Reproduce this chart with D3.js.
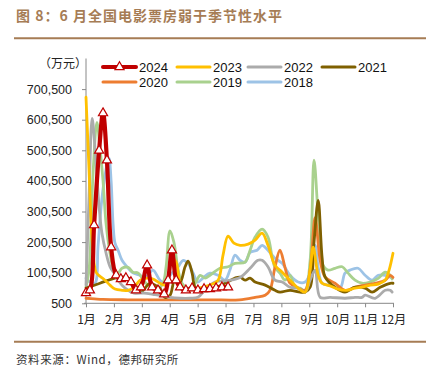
<!DOCTYPE html>
<html><head><meta charset="utf-8">
<script src="https://cdn.jsdelivr.net/npm/d3@7"></script>
<style>body{margin:0;background:#fff}</style>
</head><body><svg id="c" width="438" height="373"></svg>
<script>
// ---------- DATA ----------
const monthLabels = ["1月","2月","3月","4月","5月","6月","7月","8月","9月","10月","11月","12月"];
const monthTicks = [1,2,3,4,5,6,7,8,9,10,11,12];
const yTicks = [500,100500,200500,300500,400500,500500,600500,700500];
const years = ["2024","2023","2022","2021","2020","2019","2018"];

const m2024 = [1.00,1.14,1.29,1.47,1.61,1.75,1.90,2.08,2.25,2.43,2.61,2.79,2.97,3.19,3.37,3.58,3.80,3.94,4.08,4.23,4.37,4.58,4.80,5.01,5.23,5.44,5.66,5.87,6.09];
const v2024 = [34000,43000,256000,500000,622000,468000,184000,92000,80000,83000,70000,43000,53000,125000,53000,43000,30000,76000,174000,76000,53000,43000,50000,43000,47000,47000,50000,53000,53000];

const m2023 = [1.00,1.11,1.22,1.36,1.50,1.68,1.86,2.04,2.29,2.51,2.72,2.94,3.19,3.40,3.65,3.87,4.08,4.23,4.37,4.58,4.87,5.16,5.44,5.73,5.91,6.09,6.30,6.52,6.81,7.06,7.31,7.52,7.77,8.03,8.31,8.60,8.85,9.03,9.14,9.32,9.46,9.75,10.03,10.32,10.64,10.89,11.18,11.47,11.72,11.86,12.00];
const v2023 = [674000,435000,207000,102000,89000,76000,60000,47000,43000,43000,53000,76000,83000,80000,66000,60000,148000,135000,66000,43000,47000,53000,60000,76000,158000,220000,197000,190000,194000,207000,230000,190000,125000,102000,76000,50000,37000,109000,184000,92000,66000,57000,47000,43000,50000,53000,60000,63000,76000,109000,164000];

const m2022 = [1.00,1.11,1.22,1.32,1.47,1.57,1.72,1.86,2.00,2.15,2.40,2.72,3.08,3.40,3.76,4.01,4.37,4.73,5.01,5.27,5.62,6.09,6.52,6.88,7.16,7.31,7.52,7.77,8.03,8.31,8.60,8.85,9.03,9.21,9.39,9.75,10.28,10.64,10.89,11.00,11.36,11.72,11.90,11.97];
const v2022 = [60000,350000,605000,510000,315000,230000,164000,120000,100000,76000,50000,34000,34000,30000,25000,20000,17000,17000,20000,45000,70000,75000,85000,115000,141000,141000,120000,76000,70000,53000,50000,37000,76000,109000,20000,20000,17000,20000,20000,27000,17000,43000,43000,37000];

const m2021 = [1.00,1.50,2.04,2.40,2.58,2.76,2.97,3.11,3.29,3.47,3.65,3.83,4.01,4.19,4.37,4.55,4.66,4.80,4.91,5.09,5.44,5.62,5.98,6.34,6.52,6.70,6.88,7.06,7.42,7.77,7.95,8.31,8.67,8.85,9.03,9.17,9.32,9.46,9.57,9.92,10.28,10.64,11.00,11.25,11.54,11.90,12.00];
const v2021 = [50000,66000,83000,86000,80000,60000,37000,50000,66000,60000,50000,20000,27000,80000,70000,120000,138000,100000,53000,43000,43000,50000,66000,83000,86000,76000,83000,70000,60000,43000,37000,43000,37000,37000,53000,200000,337000,150000,86000,53000,37000,53000,50000,37000,53000,66000,66000];

const m2020 = [1.00,1.30,1.60,2.50,3.50,4.50,5.50,6.50,7.06,7.42,7.59,7.77,7.95,8.13,8.31,8.60,8.85,9.03,9.21,9.39,9.57,9.92,10.28,10.64,11.00,11.36,11.72,11.90,12.00];
const v2020 = [17000,15000,13000,12000,12000,12000,12000,12000,20000,27000,43000,118000,174000,118000,66000,50000,43000,110000,280000,141000,86000,66000,43000,53000,60000,66000,76000,92000,85000];

const m2019 = [1.00,1.11,1.25,1.39,1.50,1.61,1.72,1.86,2.00,2.15,2.29,2.51,2.68,2.86,3.01,3.15,3.37,3.58,3.76,3.87,4.01,4.15,4.30,4.44,4.58,4.73,4.91,5.09,5.27,5.44,5.80,6.09,6.34,6.70,6.88,7.06,7.31,7.52,7.67,7.77,7.95,8.13,8.31,8.49,8.67,8.85,9.03,9.17,9.32,9.46,9.67,9.92,10.18,10.39,10.64,10.89,11.18,11.47,11.72,11.90,11.97];
const v2019 = [53000,110000,420000,592000,510000,400000,260000,164000,109000,100000,115000,118000,102000,100000,83000,66000,53000,50000,66000,120000,237000,200000,110000,66000,53000,50000,66000,92000,83000,92000,115000,120000,131000,135000,174000,217000,243000,217000,151000,118000,99000,76000,92000,53000,50000,43000,140000,468000,283000,131000,109000,115000,120000,99000,76000,66000,70000,82000,102000,92000,80000];

const m2018 = [1.00,1.14,1.32,1.43,1.54,1.65,1.82,1.90,1.97,2.04,2.15,2.29,2.47,2.68,2.94,3.08,3.22,3.40,3.65,3.83,4.01,4.30,4.48,4.66,4.84,5.01,5.19,5.44,5.73,5.98,6.16,6.34,6.52,6.70,6.88,7.13,7.31,7.52,7.77,8.03,8.31,8.60,8.85,9.03,9.21,9.32,9.46,9.75,10.10,10.28,10.46,10.75,11.00,11.25,11.47,11.72,11.97];
const v2018 = [83000,70000,66000,185000,315000,400000,476000,400000,260000,197000,174000,141000,120000,100000,92000,83000,92000,109000,76000,66000,92000,120000,141000,131000,99000,70000,83000,99000,92000,76000,110000,158000,141000,135000,167000,174000,190000,174000,148000,131000,92000,70000,70000,99000,190000,118000,66000,59000,50000,99000,109000,115000,92000,76000,92000,92000,83000];

// ---------- STYLE ----------
const style = {
  "2024": {color:"#C00000", w:4.2},
  "2023": {color:"#FFC000", w:2.8},
  "2022": {color:"#ABABAB", w:2.8},
  "2021": {color:"#7F6000", w:2.8},
  "2020": {color:"#ED7D31", w:2.8},
  "2019": {color:"#A9D18E", w:2.8},
  "2018": {color:"#9DC3E6", w:2.8}
};
const seriesData = {
  "2024": d3.zip(m2024, v2024),
  "2023": d3.zip(m2023, v2023),
  "2022": d3.zip(m2022, v2022),
  "2021": d3.zip(m2021, v2021),
  "2020": d3.zip(m2020, v2020),
  "2019": d3.zip(m2019, v2019),
  "2018": d3.zip(m2018, v2018)
};

const svg = d3.select("#c");
const brown = "#A67C55";
const latin = "'Liberation Sans', Arial, sans-serif";
const cjk = "'Noto Sans CJK SC', sans-serif";

// title
svg.append("text").attr("x",16).attr("y",20.5)
  .attr("font-family",cjk).attr("font-size",14).attr("font-weight","bold")
  .attr("letter-spacing",1).attr("fill",brown)
  .text("图 8：6 月全国电影票房弱于季节性水平");
svg.append("line").attr("x1",14).attr("x2",426).attr("y1",38.3).attr("y2",38.3)
  .attr("stroke",brown).attr("stroke-width",2);
svg.append("line").attr("x1",14).attr("x2",426).attr("y1",341.8).attr("y2",341.8)
  .attr("stroke",brown).attr("stroke-width",2);
svg.append("text").attr("x",16).attr("y",364)
  .attr("font-family",cjk).attr("font-size",11.5).attr("fill","#333")
  .attr("letter-spacing",0.6)
  .text("资料来源：Wind，德邦研究所");

// scales
const x = d3.scaleLinear().domain([1,12]).range([86,393]);
const y = d3.scaleLinear().domain([500,800500]).range([303.3,58.5]);

// axes
const yAxis = svg.append("g").attr("transform","translate(86,0)")
  .call(d3.axisLeft(y).tickValues(yTicks).tickSize(4).tickPadding(10).tickFormat(d3.format(",")));
yAxis.select(".domain").attr("d","M0,58.5V303.3").attr("stroke","#888");
yAxis.selectAll(".tick line").attr("stroke","#888");
yAxis.selectAll("text").attr("font-family",latin).attr("font-size",12.5).attr("fill","#222");

const xAxis = svg.append("g").attr("transform","translate(0,303.3)")
  .call(d3.axisBottom(x).tickValues(monthTicks).tickSize(4).tickPadding(8).tickFormat(d=>monthLabels[d-1]));
xAxis.select(".domain").attr("d","M84,0H394").attr("stroke","#888");
xAxis.selectAll(".tick line").attr("stroke","#888");
xAxis.selectAll("text").attr("font-family",cjk).attr("font-size",12).attr("fill","#222");

svg.append("text").attr("x",39).attr("y",68)
  .attr("font-family",cjk).attr("font-size",12).attr("fill","#222").text("（万元）");

// lines
const line = d3.line().x(d=>x(d[0])).y(d=>y(d[1])).curve(d3.curveCatmullRom.alpha(0.5));
const drawOrder = years.slice().reverse();
const gLines = svg.append("g");
drawOrder.forEach(yr=>{
  gLines.append("path").datum(seriesData[yr]).attr("d",line)
    .attr("fill","none").attr("stroke",style[yr].color).attr("stroke-width",style[yr].w)
    .attr("stroke-linejoin","round").attr("stroke-linecap","round");
});
const tri = d3.symbol().type(d3.symbolTriangle).size(36);
gLines.selectAll(".tri").data(seriesData["2024"]).join("path")
  .attr("transform",d=>`translate(${x(d[0])},${y(d[1])})`)
  .attr("d",tri).attr("fill","#fff").attr("stroke","#C00000").attr("stroke-width",1.2);

// legend
const legPos = [[103,67],[177,67],[248,67],[322,67],[103,82],[177,82],[248,82]];
years.forEach((yr,i)=>{
  const [lx,ly] = legPos[i];
  const g = svg.append("g");
  g.append("line").attr("x1",lx).attr("x2",lx+33).attr("y1",ly).attr("y2",ly)
    .attr("stroke",style[yr].color).attr("stroke-width",yr==="2024"?4:3).attr("stroke-linecap","round");
  if (yr==="2024") {
    g.append("path").attr("transform",`translate(${lx+16.5},${ly})`).attr("d",tri)
      .attr("fill","#fff").attr("stroke","#C00000").attr("stroke-width",1.2);
  }
  g.append("text").attr("x",lx+36).attr("y",ly+4.5)
    .attr("font-family",latin).attr("font-size",13).attr("fill","#111").text(yr);
});
</script></body></html>
